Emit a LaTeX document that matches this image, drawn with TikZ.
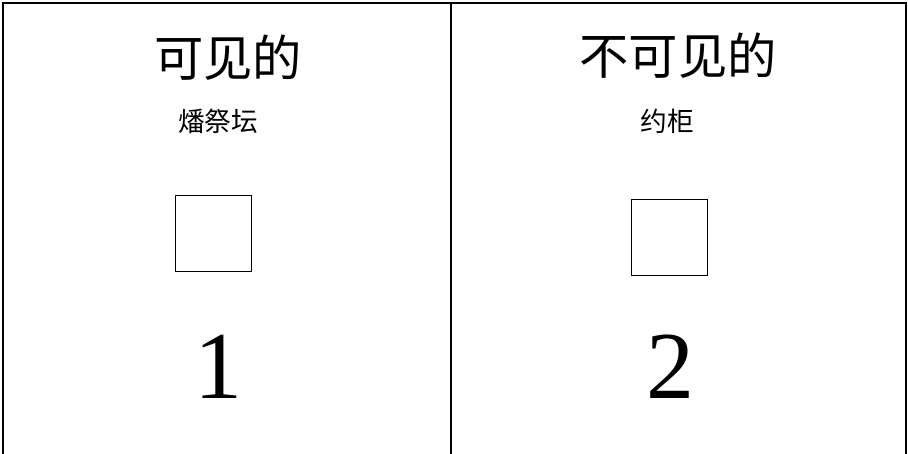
\documentclass[tikz,border=0pt]{standalone}
\usepackage{fontspec}
\setmainfont{Liberation Serif}
\newfontfamily\cjk{Noto Sans CJK SC}
\begin{document}
\begin{tikzpicture}[x=0.75pt,y=-0.75pt,
  frame/.style={draw=black,line width=1.5pt},
  titletext/.style={font=\cjk\fontsize{37}{40}\selectfont,inner sep=0pt},
  subtext/.style={font=\cjk\fontsize{20}{24}\selectfont,inner sep=0pt},
  numtext/.style={font=\fontsize{72}{80}\selectfont,inner sep=0pt,anchor=base},
  sqbox/.style={draw=black,line width=1.4pt,minimum width=57pt,minimum height=57pt,inner sep=0pt}]
\useasboundingbox (0,0) rectangle (908,454);
\path[frame] (3,3) rectangle (906,456);
\draw[frame] (451,3) -- (451,456);
\node[titletext] (t1) at (228,58) {可见的};
\node[titletext] (t2) at (678,56) {不可见的};
\node[subtext] (s1) at (218,121) {燔祭坛};
\node[subtext] (s2) at (667,121) {约柜};
\node[sqbox] (b1) at (213.5,233.5) {};
\node[sqbox] (b2) at (669.5,237.5) {};
\node[numtext] (n1) at (218,398) {1};
\node[numtext] (n2) at (670,398) {2};
\end{tikzpicture}
\end{document}
